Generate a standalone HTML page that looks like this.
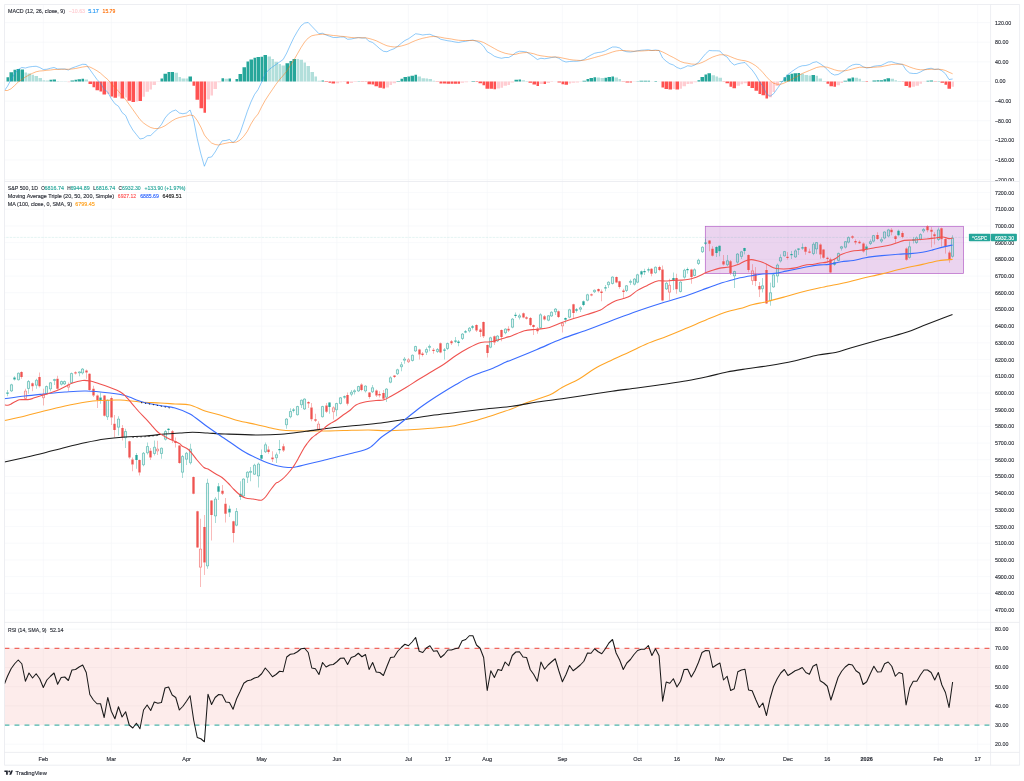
<!DOCTYPE html>
<html lang="en"><head><meta charset="utf-8"><title>S&amp;P 500 chart</title>
<style>html,body{margin:0;padding:0;background:#fff}body{width:1024px;height:781px;overflow:hidden}svg{display:block}text{font-family:"Liberation Sans", sans-serif;}</style></head><body>
<svg width="1024" height="781" viewBox="0 0 1024 781">
<rect width="1024" height="781" fill="#fff"/>
<path d="M43.3 4.5V752.4M111.32 4.5V752.4M186.5 4.5V752.4M261.68 4.5V752.4M336.86 4.5V752.4M408.46 4.5V752.4M447.84 4.5V752.4M487.22 4.5V752.4M562.4 4.5V752.4M637.58 4.5V752.4M676.96 4.5V752.4M719.92 4.5V752.4M787.94 4.5V752.4M827.32 4.5V752.4M866.7 4.5V752.4M938.3 4.5V752.4M977.68 4.5V752.4M4.5 22.63H990.6M4.5 42.25H990.6M4.5 61.88H990.6M4.5 81.5H990.6M4.5 101.12H990.6M4.5 120.75H990.6M4.5 140.37H990.6M4.5 160H990.6M4.5 179.62H990.6M4.5 192.55H990.6M4.5 209.25H990.6M4.5 225.95H990.6M4.5 242.65H990.6M4.5 259.35H990.6M4.5 276.05H990.6M4.5 292.75H990.6M4.5 309.45H990.6M4.5 326.15H990.6M4.5 342.85H990.6M4.5 359.55H990.6M4.5 376.25H990.6M4.5 392.95H990.6M4.5 409.65H990.6M4.5 426.35H990.6M4.5 443.05H990.6M4.5 459.75H990.6M4.5 476.45H990.6M4.5 493.15H990.6M4.5 509.85H990.6M4.5 526.55H990.6M4.5 543.25H990.6M4.5 559.95H990.6M4.5 576.65H990.6M4.5 593.35H990.6M4.5 610.05H990.6M4.5 629.11H990.6M4.5 648.3H990.6M4.5 667.49H990.6M4.5 686.68H990.6M4.5 705.87H990.6M4.5 725.06H990.6M4.5 744.25H990.6" stroke="#f3f5f9" stroke-width="0.6" fill="none"/>
<rect x="4.5" y="648.3" width="986.1" height="76.76" fill="#fdeceb"/>
<path d="M4.5 667.49H990.6M4.5 686.68H990.6M4.5 705.87H990.6M43.3 648.3V725.06M111.32 648.3V725.06M186.5 648.3V725.06M261.68 648.3V725.06M336.86 648.3V725.06M408.46 648.3V725.06M447.84 648.3V725.06M487.22 648.3V725.06M562.4 648.3V725.06M637.58 648.3V725.06M676.96 648.3V725.06M719.92 648.3V725.06M787.94 648.3V725.06M827.32 648.3V725.06M866.7 648.3V725.06M938.3 648.3V725.06M977.68 648.3V725.06" stroke="#f3e2e3" stroke-width="0.6" fill="none"/>
<path d="M4.5 648.3H990.6" stroke="#f1675f" stroke-width="1.3" stroke-dasharray="4.9 5.1" fill="none"/>
<path d="M4.5 725.06H990.6" stroke="#4db6ac" stroke-width="1.3" stroke-dasharray="4.9 5.1" fill="none"/>
<path d="M6.5 77.25h2.5v4.25h-2.5zM9.5 72.25h3.5v9.25h-3.5zM13.5 69.75h2.5v11.75h-2.5zM16.5 69h3.5v12.5h-3.5zM20.5 69.5h3.5v12h-3.5zM49.5 79.75h2.5v1.75h-2.5zM52.5 79.5h3.5v2h-3.5zM70.5 80.5h3.5v1h-3.5zM74.5 79.75h2.5v1.75h-2.5zM77.5 79.25h3.5v2.25h-3.5zM81.5 78.75h2.5v2.75h-2.5zM160.5 78.5h2.5v3h-2.5zM163.5 73.75h3.5v7.75h-3.5zM167.5 72h2.5v9.5h-2.5zM170.5 72h3.5v9.5h-3.5zM188.5 76.5h3.5v5h-3.5zM221.5 78.25h2.5v3.25h-2.5zM228.5 78.5h2.5v3h-2.5zM235.5 79h2.5v2.5h-2.5zM238.5 74h3.5v7.5h-3.5zM242.5 67.25h3.5v14.25h-3.5zM246.5 61.5h2.5v20h-2.5zM249.5 59.5h3.5v22h-3.5zM253.5 57.75h2.5v23.75h-2.5zM256.5 57h3.5v24.5h-3.5zM260.5 56.75h2.5v24.75h-2.5zM263.5 55h3.5v26.5h-3.5zM285.5 63.25h3.5v18.25h-3.5zM289.5 61h2.5v20.5h-2.5zM292.5 59h3.5v22.5h-3.5zM321.5 80.5h2.5v1h-2.5zM357.5 81.25h2.5v0.25h-2.5zM396.5 81h3.5v0.5h-3.5zM400.5 78.75h2.5v2.75h-2.5zM403.5 77h3.5v4.5h-3.5zM407.5 76.5h2.5v5h-2.5zM410.5 75.75h3.5v5.75h-3.5zM414.5 74.75h2.5v6.75h-2.5zM471.5 81h3.5v0.5h-3.5zM514.5 79.75h3.5v1.75h-3.5zM518.5 79.5h2.5v2h-2.5zM582.5 80.75h3.5v0.75h-3.5zM586.5 79h2.5v2.5h-2.5zM589.5 78h3.5v3.5h-3.5zM593.5 77.25h2.5v4.25h-2.5zM604.5 77.75h2.5v3.75h-2.5zM607.5 77h3.5v4.5h-3.5zM611.5 76.5h2.5v5h-2.5zM636.5 81.25h2.5v0.25h-2.5zM639.5 80.75h3.5v0.75h-3.5zM643.5 80.75h3.5v0.75h-3.5zM647.5 80.75h2.5v0.75h-2.5zM654.5 81h2.5v0.5h-2.5zM697.5 80.25h2.5v1.25h-2.5zM700.5 77h3.5v4.5h-3.5zM704.5 74.5h2.5v7h-2.5zM707.5 73.25h3.5v8.25h-3.5zM779.5 81h3.5v0.5h-3.5zM783.5 77.25h2.5v4.25h-2.5zM786.5 74.75h3.5v6.75h-3.5zM790.5 73.75h2.5v7.75h-2.5zM793.5 73.25h3.5v8.25h-3.5zM797.5 73h2.5v8.5h-2.5zM811.5 75h3.5v6.5h-3.5zM843.5 80.75h3.5v0.75h-3.5zM847.5 78.5h3.5v3h-3.5zM851.5 77.5h2.5v4h-2.5zM872.5 80.5h3.5v1h-3.5zM876.5 80.25h2.5v1.25h-2.5zM879.5 80.25h3.5v1.25h-3.5zM883.5 79.25h2.5v2.25h-2.5zM886.5 78.25h3.5v3.25h-3.5zM926.5 80.75h2.5v0.75h-2.5zM929.5 80.5h3.5v1h-3.5zM937.5 81.25h2.5v0.25h-2.5z" fill="#26a69a"/>
<path d="M24.5 72.5h2.5v9h-2.5zM27.5 73.5h3.5v8h-3.5zM31.5 74.75h2.5v6.75h-2.5zM34.5 76h3.5v5.5h-3.5zM38.5 78h3.5v3.5h-3.5zM42.5 80.25h2.5v1.25h-2.5zM45.5 80.5h3.5v1h-3.5zM56.5 81h2.5v0.5h-2.5zM59.5 81.25h3.5v0.25h-3.5zM63.5 81.25h3.5v0.25h-3.5zM84.5 79.5h3.5v2h-3.5zM174.5 72.75h3.5v8.75h-3.5zM178.5 77h2.5v4.5h-2.5zM181.5 78.5h3.5v3h-3.5zM185.5 78.5h2.5v3h-2.5zM224.5 78.75h3.5v2.75h-3.5zM267.5 56.5h3.5v25h-3.5zM271.5 59h2.5v22.5h-2.5zM274.5 61.75h3.5v19.75h-3.5zM278.5 64h2.5v17.5h-2.5zM281.5 65.5h3.5v16h-3.5zM296.5 59h2.5v22.5h-2.5zM299.5 59.75h3.5v21.75h-3.5zM303.5 62.5h2.5v19h-2.5zM306.5 66h3.5v15.5h-3.5zM310.5 72h3.5v9.5h-3.5zM314.5 76.5h2.5v5h-2.5zM317.5 80.75h3.5v0.75h-3.5zM417.5 76.5h3.5v5h-3.5zM421.5 78.25h3.5v3.25h-3.5zM425.5 78.5h2.5v3h-2.5zM428.5 79h3.5v2.5h-3.5zM432.5 80.75h2.5v0.75h-2.5zM521.5 80.25h3.5v1.25h-3.5zM525.5 81h2.5v0.5h-2.5zM596.5 77.5h3.5v4h-3.5zM600.5 78h3.5v3.5h-3.5zM614.5 77.5h3.5v4h-3.5zM618.5 79h2.5v2.5h-2.5zM711.5 75.25h3.5v6.25h-3.5zM715.5 76.5h2.5v5h-2.5zM718.5 77.75h3.5v3.75h-3.5zM800.5 73.75h3.5v7.75h-3.5zM804.5 75h3.5v6.5h-3.5zM808.5 75.5h2.5v6h-2.5zM815.5 75.75h2.5v5.75h-2.5zM818.5 78.5h3.5v3h-3.5zM822.5 81h3.5v0.5h-3.5zM854.5 77.75h3.5v3.75h-3.5zM858.5 78.75h2.5v2.75h-2.5zM861.5 81h3.5v0.5h-3.5zM890.5 78.75h3.5v2.75h-3.5zM894.5 80.25h2.5v1.25h-2.5zM897.5 81h3.5v0.5h-3.5z" fill="#b2dfdb"/>
<path d="M88.5 81.5h3.5v2.5h-3.5zM92.5 81.5h2.5v5.75h-2.5zM95.5 81.5h3.5v8.75h-3.5zM99.5 81.5h2.5v10h-2.5zM102.5 81.5h3.5v13h-3.5zM110.5 81.5h2.5v15h-2.5zM113.5 81.5h3.5v16.25h-3.5zM120.5 81.5h3.5v17h-3.5zM127.5 81.5h3.5v19.25h-3.5zM131.5 81.5h3.5v20.5h-3.5zM138.5 81.5h3.5v19.5h-3.5zM192.5 81.5h2.5v4.25h-2.5zM195.5 81.5h3.5v18.25h-3.5zM199.5 81.5h3.5v26.75h-3.5zM203.5 81.5h2.5v31.25h-2.5zM324.5 81.5h3.5v0.5h-3.5zM328.5 81.5h2.5v1.25h-2.5zM331.5 81.5h3.5v2h-3.5zM346.5 81.5h2.5v2.25h-2.5zM360.5 81.5h3.5v0.25h-3.5zM364.5 81.5h2.5v0.25h-2.5zM367.5 81.5h3.5v2.75h-3.5zM371.5 81.5h2.5v3h-2.5zM374.5 81.5h3.5v4.75h-3.5zM378.5 81.5h3.5v6.25h-3.5zM382.5 81.5h2.5v7h-2.5zM435.5 81.5h3.5v0.25h-3.5zM439.5 81.5h2.5v2h-2.5zM442.5 81.5h3.5v2h-3.5zM446.5 81.5h3.5v2.25h-3.5zM450.5 81.5h2.5v2.25h-2.5zM453.5 81.5h3.5v2.25h-3.5zM457.5 81.5h2.5v2.25h-2.5zM475.5 81.5h2.5v0.5h-2.5zM478.5 81.5h3.5v1.75h-3.5zM482.5 81.5h2.5v3.75h-2.5zM485.5 81.5h3.5v7.25h-3.5zM489.5 81.5h3.5v7.25h-3.5zM493.5 81.5h2.5v7.75h-2.5zM528.5 81.5h3.5v1.25h-3.5zM532.5 81.5h3.5v3h-3.5zM536.5 81.5h2.5v4.5h-2.5zM543.5 81.5h2.5v2.5h-2.5zM557.5 81.5h3.5v1h-3.5zM561.5 81.5h2.5v2.75h-2.5zM564.5 81.5h3.5v3.25h-3.5zM621.5 81.5h3.5v0.25h-3.5zM625.5 81.5h3.5v1h-3.5zM629.5 81.5h2.5v1h-2.5zM661.5 81.5h2.5v6h-2.5zM664.5 81.5h3.5v7.5h-3.5zM668.5 81.5h3.5v8h-3.5zM675.5 81.5h3.5v8h-3.5zM722.5 81.5h2.5v0.25h-2.5zM725.5 81.5h3.5v1.75h-3.5zM729.5 81.5h2.5v5.25h-2.5zM732.5 81.5h3.5v6.75h-3.5zM747.5 81.5h2.5v4.5h-2.5zM750.5 81.5h3.5v6.5h-3.5zM754.5 81.5h3.5v9.25h-3.5zM758.5 81.5h2.5v12.5h-2.5zM761.5 81.5h3.5v13.75h-3.5zM765.5 81.5h2.5v17h-2.5zM826.5 81.5h2.5v2.25h-2.5zM829.5 81.5h3.5v4.75h-3.5zM833.5 81.5h2.5v5.25h-2.5zM865.5 81.5h2.5v0.5h-2.5zM901.5 81.5h2.5v0.25h-2.5zM904.5 81.5h3.5v4.5h-3.5zM908.5 81.5h2.5v6h-2.5zM933.5 81.5h3.5v0.25h-3.5zM940.5 81.5h3.5v1.25h-3.5zM944.5 81.5h2.5v3.25h-2.5zM947.5 81.5h3.5v7.25h-3.5z" fill="#ff5252"/>
<path d="M67.5 81.5h2.5v0.75h-2.5zM106.5 81.5h3.5v12.5h-3.5zM117.5 81.5h2.5v15h-2.5zM124.5 81.5h2.5v16h-2.5zM135.5 81.5h2.5v20h-2.5zM142.5 81.5h2.5v15.25h-2.5zM145.5 81.5h3.5v10.25h-3.5zM149.5 81.5h2.5v8h-2.5zM152.5 81.5h3.5v3.5h-3.5zM156.5 81.5h3.5v0.25h-3.5zM206.5 81.5h3.5v18h-3.5zM210.5 81.5h2.5v14h-2.5zM213.5 81.5h3.5v7.5h-3.5zM217.5 81.5h3.5v0.75h-3.5zM335.5 81.5h3.5v1.75h-3.5zM339.5 81.5h2.5v0.75h-2.5zM342.5 81.5h3.5v0.5h-3.5zM349.5 81.5h3.5v1.5h-3.5zM353.5 81.5h3.5v0.5h-3.5zM385.5 81.5h3.5v6h-3.5zM389.5 81.5h2.5v3.5h-2.5zM392.5 81.5h3.5v1.75h-3.5zM460.5 81.5h3.5v1.25h-3.5zM464.5 81.5h3.5v0.75h-3.5zM496.5 81.5h3.5v7h-3.5zM500.5 81.5h2.5v6.25h-2.5zM503.5 81.5h3.5v4.25h-3.5zM507.5 81.5h2.5v3.5h-2.5zM510.5 81.5h3.5v1h-3.5zM539.5 81.5h3.5v2.5h-3.5zM546.5 81.5h3.5v1.5h-3.5zM550.5 81.5h2.5v0.5h-2.5zM568.5 81.5h2.5v2h-2.5zM571.5 81.5h3.5v1.25h-3.5zM575.5 81.5h3.5v1h-3.5zM579.5 81.5h2.5v0.25h-2.5zM632.5 81.5h3.5v0.25h-3.5zM672.5 81.5h2.5v7.5h-2.5zM679.5 81.5h2.5v7.25h-2.5zM682.5 81.5h3.5v4.75h-3.5zM686.5 81.5h2.5v2.5h-2.5zM689.5 81.5h3.5v2.25h-3.5zM693.5 81.5h3.5v0.75h-3.5zM736.5 81.5h3.5v4.25h-3.5zM740.5 81.5h2.5v2.75h-2.5zM743.5 81.5h3.5v1.75h-3.5zM768.5 81.5h3.5v15.75h-3.5zM772.5 81.5h2.5v10.5h-2.5zM775.5 81.5h3.5v4.5h-3.5zM836.5 81.5h3.5v3.75h-3.5zM840.5 81.5h2.5v1.5h-2.5zM911.5 81.5h3.5v5.25h-3.5zM915.5 81.5h3.5v4.25h-3.5zM919.5 81.5h2.5v2.25h-2.5zM922.5 81.5h3.5v0.25h-3.5zM951.5 81.5h2.5v5.25h-2.5z" fill="#ffcdd2"/>
<path d="M4.5 90.5L7.5 86.25L11.08 79.5L14.66 73.75L18.24 69.5L21.82 67.5L25.4 68L28.98 67L32.56 66.5L36.14 66.25L39.72 67.5L43.3 69.5L46.88 69.25L50.46 68.25L54.04 67.5L57.62 69L61.2 69L64.78 69L68.36 70L71.94 68L75.52 66.75L79.1 65.5L82.68 64.25L86.26 64.5L89.84 69.5L93.42 74.5L97 79.5L100.58 83.25L104.16 89.5L107.74 92L111.32 98.75L114.9 103.75L118.48 106.25L122.06 112.5L125.64 115.5L129.22 123.75L132.8 130L136.38 134.5L139.96 139L143.54 138.25L147.12 135.75L150.7 135.5L154.28 132L157.86 128.75L161.44 124.5L165.02 118L168.6 113.75L172.18 111.25L175.76 110L179.34 113L182.92 113.75L186.5 113L190.08 110L193.66 120L197.24 138.75L200.82 153.75L204.4 166.25L207.98 157.5L211.56 157L215.14 152L218.72 145.75L222.3 140.75L225.88 140.5L229.46 139.5L233.04 142.5L236.62 139.5L240.2 132.5L243.78 122L247.36 111.25L250.94 102L254.52 94.5L258.1 89.5L261.68 82L265.26 73.75L268.84 69.75L272.42 67L276 64.5L279.58 62L283.16 59.5L286.74 53L290.32 45L293.9 37.5L297.48 31.25L301.06 25.75L304.64 23L308.22 22.5L311.8 26.25L315.38 30L318.96 33.75L322.54 33.25L326.12 35L329.7 36.25L333.28 37.5L336.86 37.5L340.44 37L344.02 37L347.6 39.25L351.18 39L354.76 38.25L358.34 37.5L361.92 38L365.5 38L369.08 41.25L372.66 42.5L376.24 45.5L379.82 48.75L383.4 51.25L386.98 51.75L390.56 50L394.14 48.75L397.72 46.25L401.3 43.25L404.88 40.5L408.46 38.75L412.04 36.25L415.62 33.75L419.2 34.25L422.78 35L426.36 34.5L429.94 34.25L433.52 35.75L437.1 37L440.68 39.25L444.26 40L447.84 40.75L451.42 41.25L455 42L458.58 42.5L462.16 41.75L465.74 41.25L469.32 40.5L472.9 40L476.48 41.25L480.06 43L483.64 46.25L487.22 51.75L490.8 53.75L494.38 56.25L497.96 57.5L501.54 58.25L505.12 57.5L508.7 57.5L512.28 55.5L515.86 52.5L519.44 51.25L523.02 51.5L526.6 52L530.18 54.25L533.76 56.75L537.34 59.5L540.92 58.25L544.5 58.75L548.08 58.25L551.66 57.5L555.24 57L558.82 58.25L562.4 60.75L565.98 62L569.56 61.5L573.14 61.25L576.72 61.25L580.3 60.75L583.88 59.5L587.46 57L591.04 55L594.62 53.25L598.2 52.5L601.78 52L605.36 50.75L608.94 48.75L612.52 47L616.1 47L619.68 48L623.26 50.75L626.84 51.75L630.42 52L634 51.5L637.58 50.75L641.16 50.25L644.74 50L648.32 49.75L651.9 50.5L655.48 50L659.06 50.5L662.64 58L666.22 61.25L669.8 63.75L673.38 65L676.96 67.5L680.54 68.75L684.12 67.5L687.7 65.75L691.28 66.25L694.86 65L698.44 62.5L702.02 58L705.6 53.75L709.18 50.5L712.76 50.75L716.34 50.75L719.92 51L723.5 55L727.08 57L730.66 62L734.24 65L737.82 63.75L741.4 63L744.98 62.5L748.56 66.25L752.14 70L755.72 75L759.3 81.25L762.88 86.25L766.46 93.75L770.04 96.25L773.62 93.75L777.2 88.75L780.78 83.75L784.36 78.75L787.94 74.5L791.52 71.75L795.1 69.25L798.68 67L802.26 65.75L805.84 65.5L809.42 64.5L813 62.5L816.58 61.75L820.16 63.75L823.74 66.25L827.32 69.5L830.9 73.25L834.48 75L838.06 74.5L841.64 72.5L845.22 70L848.8 67L852.38 65L855.96 64.25L859.54 64.5L863.12 66.75L866.7 68L870.28 67.5L873.86 66.25L877.44 65.75L881.02 65.5L884.6 63.75L888.18 62L891.76 61.75L895.34 63L898.92 63.75L902.5 64.5L906.08 70L909.66 73L913.24 73.5L916.82 73.5L920.4 72L923.98 70L927.56 68.75L931.14 68.25L934.72 69.5L938.3 69L941.88 70.75L945.46 73.75L949.04 79.5L952.62 79" stroke="#2196f3" stroke-width="0.6" fill="none" stroke-linejoin="round" opacity="0.85"/>
<path d="M4.5 90.5L7.5 90.5L11.08 88.75L14.66 85.5L18.24 82L21.82 79.5L25.4 77L28.98 75L32.56 73.25L36.14 71.75L39.72 71L43.3 70.75L46.88 70.25L50.46 70L54.04 69.5L57.62 69.5L61.2 69.25L64.78 69.25L68.36 69.25L71.94 69L75.52 68.5L79.1 67.75L82.68 67L86.26 66.5L89.84 67L93.42 68.75L97 70.75L100.58 73.25L104.16 76.5L107.74 79.5L111.32 83.75L114.9 87.5L118.48 91.25L122.06 95.5L125.64 99.5L129.22 104.5L132.8 109.5L136.38 114.5L139.96 119.5L143.54 123L147.12 125.5L150.7 127.5L154.28 128.5L157.86 128.5L161.44 127.5L165.02 125.75L168.6 123.25L172.18 120.75L175.76 118.75L179.34 117.5L182.92 116.75L186.5 116L190.08 115L193.66 115.75L197.24 120.5L200.82 127L204.4 135L207.98 139.5L211.56 143L215.14 144.5L218.72 145L222.3 144L225.88 143.25L229.46 142.5L233.04 142.5L236.62 142L240.2 140L243.78 136.25L247.36 131.25L250.94 124L254.52 118.25L258.1 114L261.68 106.75L265.26 100.25L268.84 94.75L272.42 89.5L276 84.25L279.58 79.5L283.16 75.5L286.74 71.25L290.32 65.5L293.9 60L297.48 53.75L301.06 47.5L304.64 42L308.22 38L311.8 35.75L315.38 35L318.96 34.5L322.54 34.25L326.12 34.5L329.7 35L333.28 35.5L336.86 35.75L340.44 36.25L344.02 36.5L347.6 37L351.18 37.5L354.76 37.75L358.34 37.75L361.92 37.75L365.5 37.75L369.08 38.5L372.66 39.5L376.24 40.75L379.82 42.5L383.4 44.25L386.98 45.75L390.56 46.5L394.14 47L397.72 46.75L401.3 46L404.88 45L408.46 43.75L412.04 42L415.62 40.5L419.2 39.25L422.78 38.25L426.36 37.5L429.94 36.75L433.52 36.5L437.1 36.75L440.68 37.25L444.26 38L447.84 38.5L451.42 39L455 39.75L458.58 40.25L462.16 40.5L465.74 40.5L469.32 40.5L472.9 40.5L476.48 40.75L480.06 41.25L483.64 42.5L487.22 44.5L490.8 46.5L494.38 48.5L497.96 50.5L501.54 52L505.12 53.25L508.7 54L512.28 54.5L515.86 54.25L519.44 53.25L523.02 52.75L526.6 52.5L530.18 53L533.76 53.75L537.34 55L540.92 55.75L544.5 56.25L548.08 56.75L551.66 57L555.24 57L558.82 57.25L562.4 58L565.98 58.75L569.56 59.5L573.14 60L576.72 60.25L580.3 60.5L583.88 60.25L587.46 59.5L591.04 58.5L594.62 57.5L598.2 56.5L601.78 55.5L605.36 54.5L608.94 53.25L612.52 52L616.1 51L619.68 50.5L623.26 50.5L626.84 50.75L630.42 51L634 51.25L637.58 51L641.16 51L644.74 50.75L648.32 50.5L651.9 50.5L655.48 50.5L659.06 50.5L662.64 52L666.22 53.75L669.8 55.75L673.38 57.5L676.96 59.5L680.54 61.5L684.12 62.75L687.7 63.25L691.28 64L694.86 64.25L698.44 63.75L702.02 62.5L705.6 60.75L709.18 58.75L712.76 57L716.34 55.75L719.92 54.75L723.5 54.75L727.08 55.25L730.66 56.75L734.24 58.25L737.82 59.5L741.4 60.25L744.98 60.75L748.56 61.75L752.14 63.5L755.72 65.75L759.3 68.75L762.88 72.5L766.46 76.75L770.04 80.5L773.62 83.25L777.2 84.25L780.78 84.25L784.36 83L787.94 81.25L791.52 79.5L795.1 77.5L798.68 75.5L802.26 73.5L805.84 72L809.42 70.5L813 69L816.58 67.5L820.16 66.75L823.74 66.75L827.32 67.25L830.9 68.5L834.48 69.75L838.06 70.75L841.64 71L845.22 70.75L848.8 70L852.38 69L855.96 68L859.54 67.25L863.12 67.25L866.7 67.5L870.28 67.5L873.86 67.25L877.44 67L881.02 66.75L884.6 66L888.18 65.25L891.76 64.5L895.34 64.25L898.92 64.25L902.5 64.25L906.08 65.5L909.66 67L913.24 68.25L916.82 69.25L920.4 69.75L923.98 69.75L927.56 69.5L931.14 69.25L934.72 69.25L938.3 69.25L941.88 69.5L945.46 70.5L949.04 72.25L952.62 73.75" stroke="#ff6d00" stroke-width="0.6" fill="none" stroke-linejoin="round" opacity="0.8"/>
<rect x="705.3" y="226.3" width="258.2" height="47.1" fill="rgba(156,39,176,0.2)" stroke="#b45fc6" stroke-width="0.7"/>
<path d="M4.5 237.4H990.6" stroke="#26a69a" stroke-width="0.5" stroke-dasharray="0.5 0.9" fill="none" opacity="0.5"/>
<path d="M7.5 390V392.48M7.5 393.77V396.25M11.5 383.75V384.5M11.5 391.25V392M14.5 376.25V377.5M14.5 379.5V380.5M18.5 372.5V373M18.5 380V380.5M28.5 380V381.25M28.5 388.75V393.75M36.5 378.75V380M36.5 385.5V388.75M46.5 385.5V386.25M46.5 393.75V394.5M50.5 382V382.5M50.5 389.25V391.25M54.5 378.75V379.25M54.5 380.75V385M61.5 380.5V381.25M61.5 384.5V385.5M64.5 380.5V381.25M64.5 384.25V385M71.5 372.5V373.25M71.5 383V383.75M79.5 371.25V371.62M79.5 373.12V376.25M82.5 368V368.75M82.5 373.25V374.5M100.5 392.5V397.5M100.5 400.5V403.75M107.5 399.5V400M107.5 417V420M118.5 416.25V418.75M118.5 427.5V435.5M125.5 428.75V431.25M125.5 438V448M136.5 453V455M136.5 460V468.75M143.5 452V453M143.5 465V466.25M147.5 442.5V446.25M147.5 453V454.5M154.5 440.5V447M154.5 453.75V455.5M161.5 447.5V448M161.5 453.75V458.75M165.5 430V431.25M165.5 439.5V440.5M168.5 428V428.73M168.5 430.02V433M182.5 455V456.25M182.5 472.5V478M186.5 452V453M186.5 459.5V465M190.5 443.75V448.75M190.5 463V464.5M207.5 478.75V483M207.5 566.25V568.75M215.5 497V498.75M215.5 516.25V523M218.5 483V486.25M218.5 491.75V500M229.5 505.5V508.75M229.5 512.5V517M236.5 508V511.25M236.5 525.5V526.25M240.5 481.25V493.75M240.5 497V500M243.5 478.25V478.75M243.5 496.25V497M247.5 471.25V472M247.5 477.5V483M250.5 467V471.12M250.5 472.62V481.25M254.5 463.75V465M254.5 474.5V475M258.5 462.5V463.75M258.5 476.25V487.5M261.5 449.5V455M261.5 458.75V460M265.5 442.5V444.5M265.5 452V453M276.5 452.5V454.5M276.5 458V463M279.5 440V448.98M279.5 450.27V453.75M286.5 418V418.75M286.5 425V428.75M290.5 408.25V411.25M290.5 417V418.25M293.5 408V409.48M293.5 410.77V412.5M297.5 405.75V406.25M297.5 415V415.5M301.5 399.5V400M301.5 405V408M304.5 398.25V398.75M304.5 409.25V410M322.5 405.75V406.25M322.5 417V417.5M329.5 402V402.5M329.5 407V413.75M336.5 402.75V403.25M336.5 410V416.25M340.5 397V397.5M340.5 403.75V404.5M344.5 395.5V396.23M344.5 397.52V398.75M351.5 390V392M351.5 394.5V396.25M354.5 389.25V390.5M354.5 392V394.5M358.5 385.75V386.25M358.5 391.25V392M365.5 385.25V385.75M365.5 391.25V392.5M372.5 385V387.5M372.5 392V393M386.5 388V388.75M386.5 397.5V402M390.5 376.25V377.5M390.5 382.5V383.25M397.5 368.75V369.5M397.5 374V375M401.5 362V364.5M401.5 367V371.25M404.5 357V358.75M404.5 360.5V363.75M412.5 354.5V355M412.5 360.75V361.5M415.5 345.75V346.25M415.5 351.25V352M426.5 347.5V349.25M426.5 352.5V355M429.5 344.5V346.12M429.5 347.62V351.25M437.5 348V349.25M437.5 351.75V353M444.5 348V349.48M444.5 350.77V359.5M447.5 342.5V343.25M447.5 348.75V350M455.5 337V340.48M455.5 341.77V343M458.5 340V341.6M458.5 342.9V346.25M462.5 333V333.75M462.5 338.75V340M465.5 330V331.23M465.5 332.52V333.25M469.5 327V328M469.5 331.25V332.5M472.5 325V326.35M472.5 327.65V329.5M490.5 336.75V337.5M490.5 347.5V348.25M497.5 335V335.75M497.5 341.25V342M505.5 328.25V328.75M505.5 333V334.25M512.5 318V318.75M512.5 327.5V328.25M515.5 312.5V314.73M515.5 316.02V318M519.5 313.75V315.5M519.5 317.5V319.5M540.5 313.25V314.5M540.5 328V328.75M548.5 315V315.5M548.5 320.5V321.25M551.5 311.25V312M551.5 316.25V317M555.5 308V308.75M555.5 312V315M565.5 317.5V318M565.5 319.75V323.5M569.5 308.75V309.5M569.5 317.5V318.25M576.5 308V309.35M576.5 310.65V312.5M580.5 306.25V307.5M580.5 309.5V312M583.5 300.5V301.25M583.5 305V306.25M587.5 293.75V294.5M587.5 300.5V301.25M594.5 289.5V290M594.5 292V293M605.5 285V287.23M605.5 288.52V291.25M608.5 281.25V282M608.5 285V288M612.5 276.25V276.75M612.5 283.75V284.5M626.5 285V285.5M626.5 290.75V292M630.5 279.5V281.12M630.5 282.62V285M634.5 278V278.75M634.5 284.5V285.5M637.5 273.75V274.5M637.5 282.5V283.25M641.5 270.5V271.25M641.5 274.5V277.5M644.5 268.75V270.98M644.5 272.27V275M648.5 267.5V269.23M648.5 270.52V272.5M655.5 266.5V267M655.5 273V273.75M666.5 282V283M666.5 289.25V290M673.5 272.5V278M673.5 280.5V290M680.5 281.25V281.75M680.5 291.75V292.5M684.5 268.75V270M684.5 277.5V278.75M687.5 267.5V268.98M687.5 270.27V273.75M694.5 268.25V269.5M694.5 275.75V276.25M698.5 258.75V260M698.5 263.75V265M702.5 246.25V247M702.5 252V253M705.5 238.75V242.47M705.5 243.78V245M716.5 246.25V247M716.5 253V257M719.5 245.5V245.75M719.5 251.25V256.25M727.5 255V260.5M727.5 265V266.25M734.5 270.75V271.25M734.5 276.25V288M737.5 253V253.75M737.5 262.5V263.75M741.5 250.94V251.51M741.5 256.7V259.01M744.5 247.82V248.05M744.5 250.94V254.39M762.5 278.03V285.52M762.5 288.98V292.44M770.5 282.64V292.44M770.5 301.08V305.69M773.5 273.99V274.57M773.5 287.25V287.82M777.5 263.62V264.77M777.5 276.3V282.64M780.5 254.39V257.28M780.5 261.31V262.46M784.5 250.94V251.28M784.5 256.12V256.47M791.5 250.94V254.03M791.5 255.33V259.01M795.5 249.21V250.59M795.5 257.28V257.85M798.5 248.4V248.56M798.5 249.86V254.97M802.5 243.44V247.23M802.5 248.53V249.78M813.5 242.29V244.02M813.5 253.82V255.2M816.5 242.06V242.29M816.5 249.21V253.82M834.5 258.67V262.13M834.5 264.77V265.78M838.5 252.58V253.19M838.5 260.7V261.31M841.5 245.88V246.48M841.5 248.52V250.55M845.5 241V241.41M845.5 247.5V248.52M848.5 236.33V237.34M848.5 242.42V243.44M866.5 244.45V246.48M866.5 249.53V255.63M870.5 239.38V241.41M870.5 243.84V245.06M873.5 234.91V235.31M873.5 241.41V242.42M881.5 237.34V239.38M881.5 241.41V243.03M884.5 231.25V231.66M884.5 238.36V239.38M888.5 228.81V229.63M888.5 236.33V237.34M898.5 229.63V230.84M898.5 235.31V236.33M909.5 241.41V246.48M909.5 257.66V258.67M913.5 236.94V239.33M913.5 240.63V243.44M916.5 236.33V237.55M916.5 242.83V243.84M920.5 233.28V234.3M920.5 239.38V240.39M923.5 228.2V229.22M923.5 231.25V232.88M938.5 227.59V229.63M938.5 239.78V241M952.5 235.31V237.75M952.5 256.64V257.66" stroke="#26a69a" stroke-width="0.4" fill="none"/>
<path d="M21.5 371.25V372M21.5 377V378.75M25.5 388.75V390.75M25.5 398.75V400M32.5 382.5V383.25M32.5 386.25V391.25M39.5 372.5V377M39.5 386.25V387.5M43.5 388.75V393.75M43.5 398V405.5M57.5 375.75V378.75M57.5 388.75V389.5M68.5 382.5V384.5M68.5 387.5V391.25M75.5 371.25V372.23M75.5 373.52V374.5M86.5 369.5V370.5M86.5 372.5V378.75M89.5 373.25V373.75M89.5 390V390.75M93.5 385.75V388.75M93.5 395.5V397M97.5 394.5V395.5M97.5 400V408M104.5 395V395.5M104.5 415.75V416.5M111.5 396.25V398M111.5 417.5V425M114.5 415V423.75M114.5 430V437.5M122.5 425V428M122.5 437.5V440.5M129.5 440.75V441.25M129.5 457.5V458.75M132.5 457.5V459.5M132.5 464.5V471.25M139.5 459.5V460M139.5 472.5V475.5M150.5 448V450.75M150.5 457.5V460M157.5 440.75V448.75M157.5 451.25V455M172.5 430V431.25M172.5 440V443M175.5 437.5V441.25M175.5 443V447.5M179.5 445V445.5M179.5 463V463.75M193.5 476.5V477M193.5 493.75V494.25M197.5 510.75V511.25M197.5 547.5V548M200.5 518.75V548.75M200.5 567.5V587M204.5 515V527M204.5 562.5V575M211.5 500V500.5M211.5 515V540.5M222.5 485V490.75M222.5 493.75V495M225.5 498V503.75M225.5 513.75V522.5M233.5 520.75V521.25M233.5 533V542.5M268.5 446.25V449.5M268.5 452V453.75M272.5 451.25V457.5M272.5 459.25V462M283.5 443.75V446.25M283.5 450.5V452M308.5 401.25V402.1M308.5 403.4V408M311.5 403V407.5M311.5 419.25V421.25M315.5 413.75V419.35M315.5 420.65V422M318.5 421.25V423.75M318.5 429.5V430.5M326.5 403V405.5M326.5 411.75V413M333.5 406.25V407.5M333.5 412V419.5M347.5 392.5V395M347.5 403.75V405.5M361.5 383.25V384.5M361.5 390V391.25M369.5 392V392.5M369.5 397V398.75M376.5 389.5V390.5M376.5 395.5V397M379.5 391.25V394M379.5 395.5V397.5M383.5 390V393M383.5 398.75V400M394.5 375V375.5M394.5 377V378M408.5 358V359.5M408.5 362V363M419.5 348.75V349.5M419.5 354.5V359.5M422.5 352V353.5M422.5 355V356.5M433.5 348V349.73M433.5 351.02V353.75M440.5 342.5V343.25M440.5 352.5V353.25M451.5 340V341.25M451.5 343.25V345M476.5 324.25V325M476.5 330.5V332M480.5 328V329.5M480.5 332V337M483.5 321.5V322M483.5 336.25V338M487.5 344.5V345M487.5 353V357.5M494.5 335.5V336.25M494.5 342.5V345M501.5 329.5V330M501.5 337V341.25M508.5 326.25V328.75M508.5 330.5V332M523.5 312.5V313.25M523.5 317.5V318.25M526.5 316.25V317.35M526.5 318.65V319.5M530.5 317V318M530.5 325V326.25M533.5 324.5V325M533.5 327V335M537.5 327V328.75M537.5 331.25V333.75M544.5 315V316.25M544.5 319.5V320.5M558.5 310.5V311.25M558.5 317V318M562.5 322V323M562.5 326.25V332.5M573.5 303.75V304.25M573.5 313V318M591.5 293.5V294.23M591.5 295.52V296.25M598.5 288.5V289M598.5 291.25V292.5M601.5 289.5V291.6M601.5 292.9V301.25M616.5 276.5V277M616.5 282.5V283.25M619.5 280.75V281.25M619.5 287V288.75M623.5 288.75V290.5M623.5 292V298.75M651.5 268V268.75M651.5 273.75V276.25M659.5 265.75V267M659.5 270V271.25M662.5 265.5V269.5M662.5 300.5V301.25M669.5 278.75V285M669.5 292.5V300M676.5 273.75V278M676.5 289.25V293.75M691.5 268.75V269.5M691.5 277V283.75M709.5 240V240.5M709.5 243.75V251.25M712.5 246.25V248.75M712.5 255.75V256.5M723.5 255V261.25M723.5 264.5V265.5M730.5 260V261.25M730.5 273V275M748.5 254.39V254.97M748.5 269.96V272.26M752.5 264.19V270.53M752.5 280.91V284.94M755.5 267.07V273.99M755.5 280.91V286.1M759.5 282.06V286.1M759.5 289.55V297.05M766.5 264.19V269.96M766.5 303.39V303.96M787.5 252.09V256.8M787.5 258.1V259.58M805.5 246.33V246.9M805.5 251.74V254.74M809.5 248.63V251.55M809.5 252.85V253.24M820.5 243.44V244.45M820.5 254.61V258.67M823.5 249.13V249.53M823.5 257.66V258.67M827.5 256.64V257.82M827.5 259.12V262.74M830.5 257.66V259.28M830.5 272.49V273.09M852.5 235.31V236.33M852.5 237.75V238.97M855.5 239.38V241M855.5 242.42V244.45M859.5 240.39V241.87M859.5 243.17V243.84M863.5 242.42V243.44M863.5 251.56V252.58M877.5 232.27V234.91M877.5 238.97V239.78M891.5 228.2V229.63M891.5 232.27V235.31M895.5 235.31V236.33M895.5 238.97V243.44M902.5 231.25V232.88M902.5 236.94V238.36M906.5 247.5V248.52M906.5 259.69V260.7M927.5 225.16V226.17M927.5 230.23V232.27M931.5 227.19V229.63M931.5 231.66V247.5M934.5 232.27V234.3M934.5 236.33V244.45M941.5 227.59V228.2M941.5 239.38V246.48M945.5 238.36V238.97M945.5 245.88V253.59M949.5 250.55V252.58M949.5 259.69V262.74" stroke="#ef5350" stroke-width="0.4" fill="none"/>
<path d="M6.35 392.48h2.3v1.3h-2.3zM13.35 377.5h2.3v2h-2.3zM99.35 397.5h2.3v3h-2.3zM135.35 455h2.3v5h-2.3zM167.35 428.73h2.3v1.3h-2.3zM217.35 486.25h2.3v5.5h-2.3zM228.35 508.75h2.3v3.75h-2.3zM239.35 493.75h2.3v3.25h-2.3zM260.35 455h2.3v3.75h-2.3zM278.35 448.98h2.3v1.3h-2.3zM292.35 409.48h2.3v1.3h-2.3zM328.35 402.5h2.3v4.5h-2.3zM343.35 396.23h2.3v1.3h-2.3zM443.35 349.48h2.3v1.3h-2.3zM454.35 340.48h2.3v1.3h-2.3zM457.35 341.6h2.3v1.3h-2.3zM464.35 331.23h2.3v1.3h-2.3zM471.35 326.35h2.3v1.3h-2.3zM514.35 314.73h2.3v1.3h-2.3zM564.35 318h2.3v1.75h-2.3zM575.35 309.35h2.3v1.3h-2.3zM582.35 301.25h2.3v3.75h-2.3zM604.35 287.23h2.3v1.3h-2.3zM640.35 271.25h2.3v3.25h-2.3zM643.35 270.98h2.3v1.3h-2.3zM647.35 269.23h2.3v1.3h-2.3zM672.35 278h2.3v2.5h-2.3zM686.35 268.98h2.3v1.3h-2.3zM704.35 242.47h2.3v1.3h-2.3zM715.35 247h2.3v6h-2.3zM718.35 245.75h2.3v5.5h-2.3zM743.35 248.05h2.3v2.88h-2.3zM790.35 254.03h2.3v1.3h-2.3zM797.35 248.56h2.3v1.3h-2.3zM801.35 247.23h2.3v1.3h-2.3zM833.35 262.13h2.3v2.64h-2.3zM865.35 246.48h2.3v3.05h-2.3zM897.35 230.84h2.3v4.47h-2.3zM912.35 239.33h2.3v1.3h-2.3z" fill="#26a69a"/>
<path d="M20.35 372h2.3v5h-2.3zM31.35 383.25h2.3v3h-2.3zM38.35 377h2.3v9.25h-2.3zM56.35 378.75h2.3v10h-2.3zM74.35 372.23h2.3v1.3h-2.3zM85.35 370.5h2.3v2h-2.3zM88.35 373.75h2.3v16.25h-2.3zM92.35 388.75h2.3v6.75h-2.3zM96.35 395.5h2.3v4.5h-2.3zM103.35 395.5h2.3v20.25h-2.3zM110.35 398h2.3v19.5h-2.3zM113.35 423.75h2.3v6.25h-2.3zM121.35 428h2.3v9.5h-2.3zM128.35 441.25h2.3v16.25h-2.3zM131.35 459.5h2.3v5h-2.3zM138.35 460h2.3v12.5h-2.3zM149.35 450.75h2.3v6.75h-2.3zM171.35 431.25h2.3v8.75h-2.3zM174.35 441.25h2.3v1.75h-2.3zM178.35 445.5h2.3v17.5h-2.3zM192.35 477h2.3v16.75h-2.3zM196.35 511.25h2.3v36.25h-2.3zM203.35 527h2.3v35.5h-2.3zM210.35 500.5h2.3v14.5h-2.3zM221.35 490.75h2.3v3h-2.3zM224.35 503.75h2.3v10h-2.3zM232.35 521.25h2.3v11.75h-2.3zM267.35 449.5h2.3v2.5h-2.3zM271.35 457.5h2.3v1.75h-2.3zM282.35 446.25h2.3v4.25h-2.3zM307.35 402.1h2.3v1.3h-2.3zM310.35 407.5h2.3v11.75h-2.3zM314.35 419.35h2.3v1.3h-2.3zM325.35 405.5h2.3v6.25h-2.3zM346.35 395h2.3v8.75h-2.3zM360.35 384.5h2.3v5.5h-2.3zM368.35 392.5h2.3v4.5h-2.3zM375.35 390.5h2.3v5h-2.3zM378.35 394h2.3v1.5h-2.3zM382.35 393h2.3v5.75h-2.3zM393.35 375.5h2.3v1.5h-2.3zM418.35 349.5h2.3v5h-2.3zM421.35 353.5h2.3v1.5h-2.3zM432.35 349.73h2.3v1.3h-2.3zM439.35 343.25h2.3v9.25h-2.3zM450.35 341.25h2.3v2h-2.3zM475.35 325h2.3v5.5h-2.3zM479.35 329.5h2.3v2.5h-2.3zM482.35 322h2.3v14.25h-2.3zM486.35 345h2.3v8h-2.3zM493.35 336.25h2.3v6.25h-2.3zM500.35 330h2.3v7h-2.3zM507.35 328.75h2.3v1.75h-2.3zM522.35 313.25h2.3v4.25h-2.3zM525.35 317.35h2.3v1.3h-2.3zM529.35 318h2.3v7h-2.3zM532.35 325h2.3v2h-2.3zM536.35 328.75h2.3v2.5h-2.3zM543.35 316.25h2.3v3.25h-2.3zM557.35 311.25h2.3v5.75h-2.3zM572.35 304.25h2.3v8.75h-2.3zM590.35 294.23h2.3v1.3h-2.3zM597.35 289h2.3v2.25h-2.3zM600.35 291.6h2.3v1.3h-2.3zM615.35 277h2.3v5.5h-2.3zM618.35 281.25h2.3v5.75h-2.3zM622.35 290.5h2.3v1.5h-2.3zM650.35 268.75h2.3v5h-2.3zM658.35 267h2.3v3h-2.3zM661.35 269.5h2.3v31h-2.3zM675.35 278h2.3v11.25h-2.3zM690.35 269.5h2.3v7.5h-2.3zM708.35 240.5h2.3v3.25h-2.3zM711.35 248.75h2.3v7h-2.3zM722.35 261.25h2.3v3.25h-2.3zM729.35 261.25h2.3v11.75h-2.3zM747.35 254.97h2.3v14.99h-2.3zM754.35 273.99h2.3v6.92h-2.3zM758.35 286.1h2.3v3.46h-2.3zM765.35 269.96h2.3v33.43h-2.3zM786.35 256.8h2.3v1.3h-2.3zM804.35 246.9h2.3v4.84h-2.3zM808.35 251.55h2.3v1.3h-2.3zM819.35 244.45h2.3v10.16h-2.3zM822.35 249.53h2.3v8.13h-2.3zM826.35 257.82h2.3v1.3h-2.3zM829.35 259.28h2.3v13.2h-2.3zM851.35 236.33h2.3v1.42h-2.3zM854.35 241h2.3v1.42h-2.3zM858.35 241.87h2.3v1.3h-2.3zM862.35 243.44h2.3v8.13h-2.3zM876.35 234.91h2.3v4.06h-2.3zM890.35 229.63h2.3v2.64h-2.3zM894.35 236.33h2.3v2.64h-2.3zM901.35 232.88h2.3v4.06h-2.3zM905.35 248.52h2.3v11.17h-2.3zM926.35 226.17h2.3v4.06h-2.3zM930.35 229.63h2.3v2.03h-2.3zM933.35 234.3h2.3v2.03h-2.3zM940.35 228.2h2.3v11.17h-2.3zM944.35 238.97h2.3v6.91h-2.3zM948.35 252.58h2.3v7.11h-2.3z" fill="#ef5350"/>
<path d="M10.47 384.77h2.05v6.2h-2.05zM17.47 373.27h2.05v6.45h-2.05zM27.47 381.52h2.05v6.95h-2.05zM35.48 380.27h2.05v4.95h-2.05zM45.48 386.52h2.05v6.95h-2.05zM49.48 382.77h2.05v6.2h-2.05zM53.48 379.52h2.05v0.95h-2.05zM60.48 381.52h2.05v2.7h-2.05zM63.48 381.52h2.05v2.45h-2.05zM70.48 373.52h2.05v9.2h-2.05zM78.48 371.9h2.05v0.95h-2.05zM81.48 369.02h2.05v3.95h-2.05zM106.48 400.27h2.05v16.45h-2.05zM117.48 419.02h2.05v8.2h-2.05zM124.48 431.52h2.05v6.2h-2.05zM142.47 453.27h2.05v11.45h-2.05zM146.47 446.52h2.05v6.2h-2.05zM153.47 447.27h2.05v6.2h-2.05zM160.47 448.27h2.05v5.2h-2.05zM164.47 431.52h2.05v7.7h-2.05zM181.47 456.52h2.05v15.7h-2.05zM185.47 453.27h2.05v5.95h-2.05zM189.47 449.02h2.05v13.7h-2.05zM206.47 483.27h2.05v82.7h-2.05zM214.47 499.02h2.05v16.95h-2.05zM235.47 511.52h2.05v13.7h-2.05zM242.47 479.02h2.05v16.95h-2.05zM246.47 472.27h2.05v4.95h-2.05zM249.47 471.4h2.05v0.95h-2.05zM253.47 465.27h2.05v8.95h-2.05zM257.47 464.02h2.05v11.95h-2.05zM264.47 444.77h2.05v6.95h-2.05zM275.47 454.77h2.05v2.95h-2.05zM285.47 419.02h2.05v5.7h-2.05zM289.47 411.52h2.05v5.2h-2.05zM296.47 406.52h2.05v8.2h-2.05zM300.47 400.27h2.05v4.45h-2.05zM303.47 399.02h2.05v9.95h-2.05zM321.47 406.52h2.05v10.2h-2.05zM335.47 403.52h2.05v6.2h-2.05zM339.47 397.77h2.05v5.7h-2.05zM350.47 392.27h2.05v1.95h-2.05zM353.47 390.77h2.05v0.95h-2.05zM357.47 386.52h2.05v4.45h-2.05zM364.47 386.02h2.05v4.95h-2.05zM371.47 387.77h2.05v3.95h-2.05zM385.47 389.02h2.05v8.2h-2.05zM389.47 377.77h2.05v4.45h-2.05zM396.47 369.77h2.05v3.95h-2.05zM400.47 364.77h2.05v1.95h-2.05zM403.47 359.02h2.05v1.2h-2.05zM411.47 355.27h2.05v5.2h-2.05zM414.47 346.52h2.05v4.45h-2.05zM425.47 349.52h2.05v2.7h-2.05zM428.47 346.4h2.05v0.95h-2.05zM436.47 349.52h2.05v1.95h-2.05zM446.47 343.52h2.05v4.95h-2.05zM461.47 334.02h2.05v4.45h-2.05zM468.47 328.27h2.05v2.7h-2.05zM489.47 337.77h2.05v9.45h-2.05zM496.47 336.02h2.05v4.95h-2.05zM504.47 329.02h2.05v3.7h-2.05zM511.47 319.02h2.05v8.2h-2.05zM518.48 315.77h2.05v1.45h-2.05zM539.48 314.77h2.05v12.95h-2.05zM547.48 315.77h2.05v4.45h-2.05zM550.48 312.27h2.05v3.7h-2.05zM554.48 309.02h2.05v2.7h-2.05zM568.48 309.77h2.05v7.45h-2.05zM579.48 307.77h2.05v1.45h-2.05zM586.48 294.77h2.05v5.45h-2.05zM593.48 290.27h2.05v1.45h-2.05zM607.48 282.27h2.05v2.45h-2.05zM611.48 277.02h2.05v6.45h-2.05zM625.48 285.77h2.05v4.7h-2.05zM629.48 281.4h2.05v0.95h-2.05zM633.48 279.02h2.05v5.2h-2.05zM636.48 274.77h2.05v7.45h-2.05zM654.48 267.27h2.05v5.45h-2.05zM665.48 283.27h2.05v5.7h-2.05zM679.48 282.02h2.05v9.45h-2.05zM683.48 270.27h2.05v6.95h-2.05zM693.48 269.77h2.05v5.7h-2.05zM697.48 260.27h2.05v3.2h-2.05zM701.48 247.28h2.05v4.45h-2.05zM726.48 260.77h2.05v3.95h-2.05zM733.48 271.52h2.05v4.45h-2.05zM736.48 254.03h2.05v8.2h-2.05zM740.48 251.79h2.05v4.64h-2.05zM761.48 285.79h2.05v2.91h-2.05zM769.48 292.71h2.05v8.1h-2.05zM772.48 274.84h2.05v12.13h-2.05zM776.48 265.04h2.05v10.98h-2.05zM779.48 257.55h2.05v3.48h-2.05zM783.48 251.56h2.05v4.29h-2.05zM794.48 250.87h2.05v6.14h-2.05zM812.48 244.3h2.05v9.25h-2.05zM815.48 242.57h2.05v6.37h-2.05zM837.48 253.46h2.05v6.97h-2.05zM840.48 246.76h2.05v1.48h-2.05zM844.48 241.68h2.05v5.54h-2.05zM847.48 237.62h2.05v4.53h-2.05zM869.48 241.68h2.05v1.89h-2.05zM872.48 235.59h2.05v5.54h-2.05zM880.48 239.65h2.05v1.48h-2.05zM883.48 231.93h2.05v6.15h-2.05zM887.48 229.9h2.05v6.15h-2.05zM908.48 246.76h2.05v10.62h-2.05zM915.48 237.82h2.05v4.73h-2.05zM919.48 234.57h2.05v4.53h-2.05zM922.48 229.49h2.05v1.48h-2.05zM937.48 229.9h2.05v9.61h-2.05zM951.48 238.03h2.05v18.34h-2.05z" fill="rgba(38,166,154,0.13)" stroke="#26a69a" stroke-width="0.55"/>
<path d="M24.47 391.02h2.05v7.45h-2.05zM42.48 394.02h2.05v3.7h-2.05zM67.48 384.77h2.05v2.45h-2.05zM156.47 449.02h2.05v1.95h-2.05zM199.47 549.02h2.05v18.2h-2.05zM317.47 424.02h2.05v5.2h-2.05zM332.47 407.77h2.05v3.95h-2.05zM407.47 359.77h2.05v1.95h-2.05zM561.48 323.27h2.05v2.7h-2.05zM668.48 285.27h2.05v6.95h-2.05zM751.48 270.81h2.05v9.82h-2.05z" fill="rgba(239,83,80,0.10)" stroke="#ef5350" stroke-width="0.55"/>
<path d="M4.5 420.5C7.92 419.75 18.42 417.58 25 416C31.58 414.42 37.33 412.67 44 411C50.67 409.33 58 407.5 65 406C72 404.5 80.17 402.92 86 402C91.83 401.08 94.33 400.83 100 400.5C105.67 400.17 113.33 399.75 120 400C126.67 400.25 133.33 401.5 140 402C146.67 402.5 154.17 402.67 160 403C165.83 403.33 170 403.67 175 404C180 404.33 185 403.83 190 405C195 406.17 200 409.33 205 411C210 412.67 214.58 413.42 220 415C225.42 416.58 231.5 418.92 237.5 420.5C243.5 422.08 250.83 423.33 256 424.5C261.17 425.67 264.33 426.58 268.5 427.5C272.67 428.42 276.83 429.46 281 430C285.17 430.54 287.25 430.58 293.5 430.75C299.75 430.92 310.17 431.04 318.5 431C326.83 430.96 335.17 430.67 343.5 430.5C351.83 430.33 361.42 429.96 368.5 430C375.58 430.04 379.75 430.75 386 430.75C392.25 430.75 398.5 430.42 406 430C413.5 429.58 423.5 428.88 431 428.25C438.5 427.62 444.75 427.21 451 426.25C457.25 425.29 462.67 423.96 468.5 422.5C474.33 421.04 480.58 419.17 486 417.5C491.42 415.83 496.67 413.96 501 412.5C505.33 411.04 507.67 410.42 512 408.75C516.33 407.08 520.75 404.79 527 402.5C533.25 400.21 543.67 397.5 549.5 395C555.33 392.5 557 390.21 562 387.5C567 384.79 574.08 381.88 579.5 378.75C584.92 375.62 589.08 371.88 594.5 368.75C599.92 365.62 606.17 362.79 612 360C617.83 357.21 623.67 354.71 629.5 352C635.33 349.29 640.75 346.38 647 343.75C653.25 341.12 660.33 338.88 667 336.25C673.67 333.62 680.33 330.79 687 328C693.67 325.21 700.33 322.21 707 319.5C713.67 316.79 721.5 313.57 727 311.75C732.5 309.93 735.67 309.81 740 308.6C744.33 307.39 748.58 305.65 753 304.5C757.42 303.35 761 303.03 766.5 301.7C772 300.37 780.42 298.03 786 296.5C791.58 294.97 794.33 293.95 800 292.5C805.67 291.05 813.12 289.3 820 287.8C826.88 286.3 834.32 285.05 841.25 283.5C848.18 281.95 854.83 280.1 861.6 278.5C868.38 276.9 875.13 275.52 881.9 273.9C888.67 272.28 895.43 270.38 902.2 268.8C908.97 267.22 916.41 265.75 922.5 264.4C928.59 263.05 933.73 261.53 938.75 260.7C943.77 259.87 950.29 259.62 952.6 259.4" stroke="#ffa526" stroke-width="1.08" fill="none" stroke-linejoin="round"/>
<path d="M4.5 462C7.92 461.25 18.42 459 25 457.5C31.58 456 37.33 454.67 44 453C50.67 451.33 58 449.25 65 447.5C72 445.75 79.33 443.92 86 442.5C92.67 441.08 98.5 439.92 105 439C111.5 438.08 118.33 437.5 125 437C131.67 436.5 138.33 436.5 145 436C151.67 435.5 159.17 434.5 165 434C170.83 433.5 175.42 433.29 180 433C184.58 432.71 187.92 432.25 192.5 432.25C197.08 432.25 202.08 432.71 207.5 433C212.92 433.29 216.92 433.67 225 434C233.08 434.33 246.67 434.96 256 435C265.33 435.04 272.67 434.88 281 434.25C289.33 433.62 297.67 432.29 306 431.25C314.33 430.21 322.67 428.96 331 428C339.33 427.04 347.67 426.33 356 425.5C364.33 424.67 372.67 424.04 381 423C389.33 421.96 397.67 420.5 406 419.25C414.33 418 422.67 416.62 431 415.5C439.33 414.38 447.67 413.5 456 412.5C464.33 411.5 471.67 410.54 481 409.5C490.33 408.46 502.67 407.5 512 406.25C521.33 405 528.67 403.25 537 402C545.33 400.75 553.67 399.92 562 398.75C570.33 397.58 578.67 396.25 587 395C595.33 393.75 603.67 392.42 612 391.25C620.33 390.08 628.67 389.12 637 388C645.33 386.88 653.67 385.71 662 384.5C670.33 383.29 679.5 382.04 687 380.75C694.5 379.46 700.33 378.21 707 376.75C713.67 375.29 720.33 373.33 727 372C733.67 370.67 740.17 369.79 747 368.75C753.83 367.71 760.33 367 768 365.75C775.67 364.5 784.67 363.04 793 361.25C801.33 359.46 810.92 356.46 818 355C825.08 353.54 830.08 353.67 835.5 352.5C840.92 351.33 845.08 349.58 850.5 348C855.92 346.42 861.75 344.75 868 343C874.25 341.25 881.33 339.38 888 337.5C894.67 335.62 902.17 333.71 908 331.75C913.83 329.79 918 327.71 923 325.75C928 323.79 933.08 321.88 938 320C942.92 318.12 950.08 315.42 952.5 314.5" stroke="#1c1c1c" stroke-width="1.08" fill="none" stroke-linejoin="round"/>
<path d="M4.5 398.75C7.92 398.29 18.42 396.79 25 396C31.58 395.21 37.33 394.67 44 394C50.67 393.33 58 392.5 65 392C72 391.5 78.5 390.83 86 391C93.5 391.17 103.5 392.25 110 393C116.5 393.75 119.58 394 125 395.5C130.42 397 136.67 400.33 142.5 402C148.33 403.67 154.58 404.5 160 405.5C165.42 406.5 170 406.58 175 408C180 409.42 185 411.17 190 414C195 416.83 200 421.42 205 425C210 428.58 216.38 433 220 435.5C223.62 438 224.17 438.25 226.75 440C229.33 441.75 232.38 443.92 235.5 446C238.62 448.08 241.75 450.38 245.5 452.5C249.25 454.62 254.25 457 258 458.75C261.75 460.5 264.67 461.79 268 463C271.33 464.21 274.67 465.25 278 466C281.33 466.75 285.08 467.33 288 467.5C290.92 467.67 292.17 467.58 295.5 467C298.83 466.42 303.42 465.08 308 464C312.58 462.92 317.58 461.83 323 460.5C328.42 459.17 335.5 457.25 340.5 456C345.5 454.75 348.25 454.33 353 453C357.75 451.67 364.33 450.58 369 448C373.67 445.42 376.92 440.71 381 437.5C385.08 434.29 389.33 431.88 393.5 428.75C397.67 425.62 401.83 422.08 406 418.75C410.17 415.42 414.33 411.88 418.5 408.75C422.67 405.62 426.83 402.79 431 400C435.17 397.21 439.33 394.58 443.5 392C447.67 389.42 451.83 386.92 456 384.5C460.17 382.08 464.33 379.5 468.5 377.5C472.67 375.5 476.83 374.08 481 372.5C485.17 370.92 489.33 369.75 493.5 368C497.67 366.25 502.92 363.38 506 362C509.08 360.62 506.83 361.83 512 359.75C517.17 357.67 528.67 353 537 349.5C545.33 346 553.67 342 562 338.75C570.33 335.5 578.67 333.04 587 330C595.33 326.96 603.67 323.62 612 320.5C620.33 317.38 628.67 314.17 637 311.25C645.33 308.33 653.67 305.62 662 303C670.33 300.38 680.33 297.67 687 295.5C693.67 293.33 697 291.83 702 290C707 288.17 712 286.17 717 284.5C722 282.83 728.17 281.12 732 280C735.83 278.88 736.75 278.52 740 277.8C743.25 277.08 747.67 276.33 751.5 275.7C755.33 275.07 759.15 274.38 763 274C766.85 273.62 770.77 273.88 774.6 273.4C778.43 272.92 782.17 271.87 786 271.1C789.83 270.33 793.73 269.57 797.6 268.8C801.47 268.03 805.47 267.15 809.2 266.5C812.93 265.85 816.7 265.25 820 264.9C823.3 264.55 825.46 264.93 829 264.4C832.54 263.87 837.18 262.35 841.25 261.7C845.32 261.05 849.34 261.17 853.4 260.5C857.46 259.83 860.85 258.52 865.6 257.7C870.35 256.88 876.48 256.18 881.9 255.6C887.32 255.02 893.37 254.53 898.1 254.2C902.83 253.87 906.23 253.93 910.3 253.6C914.37 253.27 918.77 252.82 922.5 252.2C926.23 251.58 929.32 250.75 932.7 249.9C936.08 249.05 939.48 247.92 942.8 247.1C946.12 246.28 950.97 245.35 952.6 245" stroke="#3b6dff" stroke-width="1.15" fill="none" stroke-linejoin="round"/>
<path d="M4.6 404.9C5.12 404.97 6.67 405.42 7.7 405.3C8.72 405.18 9.47 404.83 10.75 404.2C12.03 403.57 13.99 402.23 15.4 401.5C16.81 400.77 17.93 400.12 19.2 399.8C20.47 399.48 21.6 399.63 23 399.6C24.4 399.57 26.05 399.77 27.6 399.6C29.15 399.43 30.75 399.03 32.3 398.6C33.85 398.17 35.37 397.52 36.9 397C38.43 396.48 39.97 395.97 41.5 395.5C43.03 395.03 44.32 394.73 46.1 394.2C47.88 393.67 49.88 393.12 52.2 392.3C54.52 391.48 56.62 390.85 60 389.3C63.38 387.75 68.75 384.47 72.5 383C76.25 381.53 79.58 380.83 82.5 380.5C85.42 380.17 87.08 380.42 90 381C92.92 381.58 96.67 382.92 100 384C103.33 385.08 106.67 386.22 110 387.5C113.33 388.78 117.48 390.35 120 391.7C122.52 393.05 122.97 393.45 125.1 395.6C127.23 397.75 130.45 401.87 132.8 404.6C135.15 407.33 137.07 409.65 139.2 412C141.33 414.35 143.47 416.4 145.6 418.7C147.73 421 150.07 423.67 152 425.8C153.93 427.93 155.7 430.07 157.2 431.5C158.7 432.93 159.3 433.33 161 434.4C162.7 435.47 165.05 436.72 167.4 437.9C169.75 439.08 173 440.5 175.1 441.5C177.2 442.5 178.85 443.15 180 443.9C181.15 444.65 180.5 444.98 182 446C183.5 447.02 186.5 447.67 189 450C191.5 452.33 194.5 457.08 197 460C199.5 462.92 202.17 466 204 467.5C205.83 469 206.08 467.96 208 469C209.92 470.04 213.17 472.33 215.5 473.75C217.83 475.17 219.92 475.96 222 477.5C224.08 479.04 226 481 228 483C230 485 232 487.5 234 489.5C236 491.5 238.08 493.58 240 495C241.92 496.42 243.33 497.33 245.5 498C247.67 498.67 250.92 498.67 253 499C255.08 499.33 256.5 499.83 258 500C259.5 500.17 260.75 500.5 262 500C263.25 499.5 264.08 498.67 265.5 497C266.92 495.33 268.78 492.28 270.5 490C272.22 487.72 274.55 484.58 275.8 483.3C277.05 482.02 276.95 482.95 278 482.3C279.05 481.65 280.52 480.78 282.1 479.4C283.68 478.02 285.7 476.02 287.5 474C289.3 471.98 291.12 469.87 292.9 467.3C294.68 464.73 296.35 461.82 298.2 458.6C300.05 455.38 302.45 450.6 304 448C305.55 445.4 306.22 444.67 307.5 443C308.78 441.33 310.18 439.47 311.7 438C313.22 436.53 315.01 435.38 316.6 434.2C318.19 433.02 319.57 432.27 321.25 430.9C322.93 429.53 325.01 427.33 326.7 426C328.39 424.67 329.7 423.93 331.4 422.9C333.1 421.87 334.95 421.12 336.9 419.8C338.85 418.48 341.02 416.5 343.1 415C345.18 413.5 347.25 412.47 349.4 410.8C351.55 409.13 353.23 406.51 356 405C358.77 403.49 362.67 402.5 366 401.75C369.33 401 373.08 400.79 376 400.5C378.92 400.21 381 400.71 383.5 400C386 399.29 387.25 398.33 391 396.25C394.75 394.17 401.42 390.29 406 387.5C410.58 384.71 414.33 382.08 418.5 379.5C422.67 376.92 426.83 374.5 431 372C435.17 369.5 439.33 367.25 443.5 364.5C447.67 361.75 451.83 358.25 456 355.5C460.17 352.75 464.33 350.17 468.5 348C472.67 345.83 477.67 343.5 481 342.5C484.33 341.5 486 342.33 488.5 342C491 341.67 493.08 341.25 496 340.5C498.92 339.75 503.33 338.29 506 337.5C508.67 336.71 508.92 336.88 512 335.75C515.08 334.62 520.33 331.83 524.5 330.75C528.67 329.67 532.83 329.79 537 329.25C541.17 328.71 545.33 328.62 549.5 327.5C553.67 326.38 557.83 324.04 562 322.5C566.17 320.96 570.33 319.58 574.5 318.25C578.67 316.92 582.75 315.82 587 314.5C591.25 313.18 596.67 311.78 600 310.3C603.33 308.82 604.47 307.15 607 305.6C609.53 304.05 612.47 302.17 615.2 301C617.93 299.83 620.85 299.48 623.4 298.6C625.95 297.72 628.15 297.07 630.5 295.7C632.85 294.33 634.77 292.07 637.5 290.4C640.23 288.73 644.17 287.07 646.9 285.7C649.63 284.33 651.95 283.02 653.9 282.2C655.85 281.38 656.65 281 658.6 280.8C660.55 280.6 663.25 281.07 665.6 281C667.95 280.93 669.97 280.55 672.7 280.4C675.43 280.25 679.28 280.28 682 280.1C684.72 279.92 687.04 279.63 689 279.3C690.96 278.97 691.98 278.7 693.75 278.1C695.52 277.5 697.64 276.58 699.6 275.7C701.56 274.82 703.35 273.72 705.5 272.8C707.65 271.88 710.08 270.98 712.5 270.2C714.92 269.42 717.17 268.63 720 268.1C722.83 267.57 726.25 267.7 729.5 267C732.75 266.3 736.78 264.95 739.5 263.9C742.22 262.85 743.8 261.42 745.8 260.7C747.8 259.98 749.58 259.6 751.5 259.6C753.42 259.6 755.38 260.22 757.3 260.7C759.22 261.18 761.27 261.82 763 262.5C764.73 263.18 765.97 263.93 767.7 264.8C769.43 265.67 771.48 267.03 773.4 267.7C775.32 268.37 776.7 268.62 779.2 268.8C781.7 268.98 785.72 268.95 788.4 268.8C791.08 268.65 792.6 268.48 795.3 267.9C798 267.32 801.52 265.92 804.6 265.3C807.68 264.68 811.23 264.58 813.8 264.2C816.37 263.82 817.8 263.35 820 263C822.2 262.65 824.47 262.82 827 262.1C829.53 261.38 832.83 259.95 835.2 258.7C837.58 257.45 838.55 255.85 841.25 254.6C843.95 253.35 847.67 251.98 851.4 251.2C855.12 250.42 859.53 250.52 863.6 249.9C867.67 249.28 871.73 248.23 875.8 247.5C879.87 246.77 884.28 246.35 888 245.5C891.72 244.65 895.4 243.25 898.1 242.4C900.8 241.55 901.48 240.8 904.2 240.4C906.92 240 910.67 240.23 914.4 240C918.13 239.77 922.88 239.38 926.6 239C930.32 238.62 934 238.08 936.7 237.75C939.4 237.42 940.77 236.86 942.8 237C944.83 237.14 947.27 238.42 948.9 238.6C950.53 238.78 951.98 238.18 952.6 238.1" stroke="#ef5350" stroke-width="1.1" fill="none" stroke-linejoin="round"/>
<path d="M141 402.6L156.5 405.2L172.5 408.5" stroke="#111" stroke-width="0.9" stroke-dasharray="1.2 2.8" fill="none"/>
<path d="M132.5 437.3L145 436.7L158.5 435.4" stroke="#111" stroke-width="0.9" stroke-dasharray="1.2 2.8" fill="none"/>
<path d="M4.5 683.75L7.5 676.25L11.08 668.75L14.66 663.75L18.24 660L21.82 663.75L25.4 681.25L28.98 673L32.56 678L36.14 673.75L39.72 678.75L43.3 687.5L46.88 680L50.46 676.25L54.04 673L57.62 684.25L61.2 677.5L64.78 677L68.36 680.5L71.94 670L75.52 669.5L79.1 667L82.68 665L86.26 672.5L89.84 694.5L93.42 700L97 703.75L100.58 703.75L104.16 717.5L107.74 697.5L111.32 711.25L114.9 718.75L118.48 706.75L122.06 717L125.64 711.75L129.22 725L132.8 728L136.38 723.25L139.96 728.75L143.54 710L147.12 705L150.7 710.5L154.28 702L157.86 703.25L161.44 702.5L165.02 688L168.6 687L172.18 695L175.76 697.5L179.34 710L182.92 706.25L186.5 701.25L190.08 695.75L193.66 720L197.24 737.5L200.82 738.75L204.4 741.75L207.98 694.25L211.56 704.5L215.14 697.5L218.72 694.5L222.3 695L225.88 702L229.46 702.5L233.04 709.25L236.62 698.75L240.2 691.25L243.78 683.25L247.36 680.75L250.94 680L254.52 678L258.1 677L261.68 673.75L265.26 668L268.84 672L272.42 676.75L276 674.5L279.58 671.25L283.16 671.75L286.74 657L290.32 654.25L293.9 653.75L297.48 651.75L301.06 648.75L304.64 648.25L308.22 652.5L311.8 668L315.38 668.75L318.96 674.5L322.54 662.5L326.12 667L329.7 665L333.28 664.5L336.86 661.75L340.44 658.25L344.02 658L347.6 664.5L351.18 657.5L354.76 656.25L358.34 653.25L361.92 656.75L365.5 654.5L369.08 669.5L372.66 662.5L376.24 672L379.82 672.5L383.4 675.5L386.98 666.25L390.56 657.5L394.14 657L397.72 651.25L401.3 647.5L404.88 644.25L408.46 645.75L412.04 642L415.62 637.5L419.2 651.25L422.78 652.5L426.36 648L429.94 645.75L433.52 651.25L437.1 650.75L440.68 657.5L444.26 654.5L447.84 650L451.42 650L455 648.75L458.58 648L462.16 640.75L465.74 639.5L469.32 635.75L472.9 635.75L476.48 645L480.06 648.25L483.64 657.5L487.22 690.5L490.8 670.75L494.38 677.5L497.96 669.5L501.54 670.5L505.12 662L508.7 665.75L512.28 655.5L515.86 652L519.44 651.75L523.02 657L526.6 657.5L530.18 669.5L533.76 674.5L537.34 681.25L540.92 662L544.5 669.25L548.08 665L551.66 661.75L555.24 658.75L558.82 670.75L562.4 681.75L565.98 674.5L569.56 665.5L573.14 670.75L576.72 668L580.3 665L583.88 661.25L587.46 653L591.04 653.25L594.62 648.75L598.2 651.75L601.78 653.75L605.36 648.75L608.94 643L612.52 639.5L616.1 653L619.68 660L623.26 669.5L626.84 663L630.42 659.5L634 654.5L637.58 650.5L641.16 649.25L644.74 649.25L648.32 645.5L651.9 655.5L655.48 648.75L659.06 655.75L662.64 701.25L666.22 682L669.8 683.25L673.38 678.75L676.96 687L680.54 681.25L684.12 669.5L687.7 669.25L691.28 677L694.86 670.75L698.44 662.5L702.02 652.5L705.6 650.5L709.18 650.75L712.76 667.5L716.34 665L719.92 663L723.5 680L727.08 676.25L730.66 690.5L734.24 688.75L737.82 671.75L741.4 670L744.98 669.25L748.56 690L752.14 690.75L755.72 699.5L759.3 707.5L762.88 703L766.46 715.5L770.04 698.75L773.62 686.25L777.2 678.75L780.78 673L784.36 669.5L787.94 675.5L791.52 673.25L795.1 670.75L798.68 669.5L802.26 667.5L805.84 672.5L809.42 674.25L813 666.25L816.58 664.25L820.16 680.75L823.74 683L827.32 686.25L830.9 700L834.48 688.75L838.06 677.5L841.64 671.25L845.22 667L848.8 664.25L852.38 665L855.96 670.75L859.54 673.25L863.12 684.5L866.7 681.75L870.28 673.75L873.86 666.25L877.44 672L881.02 671.75L884.6 663.75L888.18 662L891.76 666.25L895.34 676.25L898.92 672.5L902.5 673.75L906.08 705L909.66 688L913.24 681.25L916.82 681.25L920.4 675L923.98 670L927.56 670L931.14 672.5L934.72 680L938.3 672.5L941.88 685L945.46 692.5L949.04 707.5L952.62 682" stroke="#1a1a1a" stroke-width="1.05" fill="none" stroke-linejoin="round"/>
<rect x="990.6" y="4.5" width="29" height="760.7" fill="#fff"/>
<path d="M4.5 4.5H1019.6V765.2H4.5zM990.6 4.5V765.2M4.5 181.5H1019.6M4.5 622.4H1019.6M4.5 752.4H1019.6" stroke="#e8eaef" stroke-width="0.8" fill="none"/>
<clipPath id="c1"><rect x="990.6" y="4.5" width="40" height="176.6"/></clipPath><g clip-path="url(#c1)">
<text x="995" y="24.6" font-size="5.5" fill="#2a2d36" textLength="16.3" lengthAdjust="spacingAndGlyphs" stroke="#2a2d36" stroke-width="0.13">120.00</text>
<text x="995" y="44.22" font-size="5.5" fill="#2a2d36" textLength="13.4" lengthAdjust="spacingAndGlyphs" stroke="#2a2d36" stroke-width="0.13">80.00</text>
<text x="995" y="63.85" font-size="5.5" fill="#2a2d36" textLength="13.4" lengthAdjust="spacingAndGlyphs" stroke="#2a2d36" stroke-width="0.13">40.00</text>
<text x="995" y="83.47" font-size="5.5" fill="#2a2d36" textLength="10.6" lengthAdjust="spacingAndGlyphs" stroke="#2a2d36" stroke-width="0.13">0.00</text>
<text x="995" y="103.09" font-size="5.5" fill="#2a2d36" textLength="16.3" lengthAdjust="spacingAndGlyphs" stroke="#2a2d36" stroke-width="0.13">−40.00</text>
<text x="995" y="122.72" font-size="5.5" fill="#2a2d36" textLength="16.3" lengthAdjust="spacingAndGlyphs" stroke="#2a2d36" stroke-width="0.13">−80.00</text>
<text x="995" y="142.34" font-size="5.5" fill="#2a2d36" textLength="19.2" lengthAdjust="spacingAndGlyphs" stroke="#2a2d36" stroke-width="0.13">−120.00</text>
<text x="995" y="161.97" font-size="5.5" fill="#2a2d36" textLength="19.2" lengthAdjust="spacingAndGlyphs" stroke="#2a2d36" stroke-width="0.13">−160.00</text>
<text x="995" y="181.59" font-size="5.5" fill="#2a2d36" textLength="19.2" lengthAdjust="spacingAndGlyphs" stroke="#2a2d36" stroke-width="0.13">−200.00</text>
</g>
<text x="995" y="194.52" font-size="5.5" fill="#2a2d36" textLength="19.1" lengthAdjust="spacingAndGlyphs" stroke="#2a2d36" stroke-width="0.13">7200.00</text>
<text x="995" y="211.22" font-size="5.5" fill="#2a2d36" textLength="19.1" lengthAdjust="spacingAndGlyphs" stroke="#2a2d36" stroke-width="0.13">7100.00</text>
<text x="995" y="227.92" font-size="5.5" fill="#2a2d36" textLength="19.1" lengthAdjust="spacingAndGlyphs" stroke="#2a2d36" stroke-width="0.13">7000.00</text>
<text x="995" y="261.32" font-size="5.5" fill="#2a2d36" textLength="19.1" lengthAdjust="spacingAndGlyphs" stroke="#2a2d36" stroke-width="0.13">6800.00</text>
<text x="995" y="278.02" font-size="5.5" fill="#2a2d36" textLength="19.1" lengthAdjust="spacingAndGlyphs" stroke="#2a2d36" stroke-width="0.13">6700.00</text>
<text x="995" y="294.72" font-size="5.5" fill="#2a2d36" textLength="19.1" lengthAdjust="spacingAndGlyphs" stroke="#2a2d36" stroke-width="0.13">6600.00</text>
<text x="995" y="311.42" font-size="5.5" fill="#2a2d36" textLength="19.1" lengthAdjust="spacingAndGlyphs" stroke="#2a2d36" stroke-width="0.13">6500.00</text>
<text x="995" y="328.12" font-size="5.5" fill="#2a2d36" textLength="19.1" lengthAdjust="spacingAndGlyphs" stroke="#2a2d36" stroke-width="0.13">6400.00</text>
<text x="995" y="344.82" font-size="5.5" fill="#2a2d36" textLength="19.1" lengthAdjust="spacingAndGlyphs" stroke="#2a2d36" stroke-width="0.13">6300.00</text>
<text x="995" y="361.52" font-size="5.5" fill="#2a2d36" textLength="19.1" lengthAdjust="spacingAndGlyphs" stroke="#2a2d36" stroke-width="0.13">6200.00</text>
<text x="995" y="378.22" font-size="5.5" fill="#2a2d36" textLength="19.1" lengthAdjust="spacingAndGlyphs" stroke="#2a2d36" stroke-width="0.13">6100.00</text>
<text x="995" y="394.92" font-size="5.5" fill="#2a2d36" textLength="19.1" lengthAdjust="spacingAndGlyphs" stroke="#2a2d36" stroke-width="0.13">6000.00</text>
<text x="995" y="411.62" font-size="5.5" fill="#2a2d36" textLength="19.1" lengthAdjust="spacingAndGlyphs" stroke="#2a2d36" stroke-width="0.13">5900.00</text>
<text x="995" y="428.32" font-size="5.5" fill="#2a2d36" textLength="19.1" lengthAdjust="spacingAndGlyphs" stroke="#2a2d36" stroke-width="0.13">5800.00</text>
<text x="995" y="445.02" font-size="5.5" fill="#2a2d36" textLength="19.1" lengthAdjust="spacingAndGlyphs" stroke="#2a2d36" stroke-width="0.13">5700.00</text>
<text x="995" y="461.72" font-size="5.5" fill="#2a2d36" textLength="19.1" lengthAdjust="spacingAndGlyphs" stroke="#2a2d36" stroke-width="0.13">5600.00</text>
<text x="995" y="478.42" font-size="5.5" fill="#2a2d36" textLength="19.1" lengthAdjust="spacingAndGlyphs" stroke="#2a2d36" stroke-width="0.13">5500.00</text>
<text x="995" y="495.12" font-size="5.5" fill="#2a2d36" textLength="19.1" lengthAdjust="spacingAndGlyphs" stroke="#2a2d36" stroke-width="0.13">5400.00</text>
<text x="995" y="511.82" font-size="5.5" fill="#2a2d36" textLength="19.1" lengthAdjust="spacingAndGlyphs" stroke="#2a2d36" stroke-width="0.13">5300.00</text>
<text x="995" y="528.52" font-size="5.5" fill="#2a2d36" textLength="19.1" lengthAdjust="spacingAndGlyphs" stroke="#2a2d36" stroke-width="0.13">5200.00</text>
<text x="995" y="545.22" font-size="5.5" fill="#2a2d36" textLength="19.1" lengthAdjust="spacingAndGlyphs" stroke="#2a2d36" stroke-width="0.13">5100.00</text>
<text x="995" y="561.92" font-size="5.5" fill="#2a2d36" textLength="19.1" lengthAdjust="spacingAndGlyphs" stroke="#2a2d36" stroke-width="0.13">5000.00</text>
<text x="995" y="578.62" font-size="5.5" fill="#2a2d36" textLength="19.1" lengthAdjust="spacingAndGlyphs" stroke="#2a2d36" stroke-width="0.13">4900.00</text>
<text x="995" y="595.32" font-size="5.5" fill="#2a2d36" textLength="19.1" lengthAdjust="spacingAndGlyphs" stroke="#2a2d36" stroke-width="0.13">4800.00</text>
<text x="995" y="612.02" font-size="5.5" fill="#2a2d36" textLength="19.1" lengthAdjust="spacingAndGlyphs" stroke="#2a2d36" stroke-width="0.13">4700.00</text>
<text x="995" y="244.62" font-size="5.5" fill="#2a2d36" textLength="19.1" lengthAdjust="spacingAndGlyphs" stroke="#2a2d36" stroke-width="0.13">6900.00</text>
<text x="995" y="631.08" font-size="5.5" fill="#2a2d36" textLength="13.4" lengthAdjust="spacingAndGlyphs" stroke="#2a2d36" stroke-width="0.13">80.00</text>
<text x="995" y="650.27" font-size="5.5" fill="#2a2d36" textLength="13.4" lengthAdjust="spacingAndGlyphs" stroke="#2a2d36" stroke-width="0.13">70.00</text>
<text x="995" y="669.46" font-size="5.5" fill="#2a2d36" textLength="13.4" lengthAdjust="spacingAndGlyphs" stroke="#2a2d36" stroke-width="0.13">60.00</text>
<text x="995" y="688.65" font-size="5.5" fill="#2a2d36" textLength="13.4" lengthAdjust="spacingAndGlyphs" stroke="#2a2d36" stroke-width="0.13">50.00</text>
<text x="995" y="707.84" font-size="5.5" fill="#2a2d36" textLength="13.4" lengthAdjust="spacingAndGlyphs" stroke="#2a2d36" stroke-width="0.13">40.00</text>
<text x="995" y="727.03" font-size="5.5" fill="#2a2d36" textLength="13.4" lengthAdjust="spacingAndGlyphs" stroke="#2a2d36" stroke-width="0.13">30.00</text>
<text x="995" y="746.22" font-size="5.5" fill="#2a2d36" textLength="13.4" lengthAdjust="spacingAndGlyphs" stroke="#2a2d36" stroke-width="0.13">20.00</text>
<rect x="968.9" y="233.7" width="21.4" height="7.6" rx="0.8" fill="#26a69a"/>
<rect x="990.9" y="233.7" width="26" height="7.6" rx="0.8" fill="#26a69a"/>
<text x="972" y="239.95" font-size="5.5" fill="#fff" textLength="15.2" lengthAdjust="spacingAndGlyphs" stroke="#fff" stroke-width="0.13">^GSPC</text>
<text x="995" y="239.95" font-size="5.5" fill="#fff" textLength="19.1" lengthAdjust="spacingAndGlyphs" stroke="#fff" stroke-width="0.13">6932.30</text>
<text x="43.3" y="760.6" font-size="5.5" fill="#2a2d36" text-anchor="middle" stroke="#2a2d36" stroke-width="0.13">Feb</text>
<text x="111.32" y="760.6" font-size="5.5" fill="#2a2d36" text-anchor="middle" stroke="#2a2d36" stroke-width="0.13">Mar</text>
<text x="186.5" y="760.6" font-size="5.5" fill="#2a2d36" text-anchor="middle" stroke="#2a2d36" stroke-width="0.13">Apr</text>
<text x="261.68" y="760.6" font-size="5.5" fill="#2a2d36" text-anchor="middle" stroke="#2a2d36" stroke-width="0.13">May</text>
<text x="336.86" y="760.6" font-size="5.5" fill="#2a2d36" text-anchor="middle" stroke="#2a2d36" stroke-width="0.13">Jun</text>
<text x="408.46" y="760.6" font-size="5.5" fill="#2a2d36" text-anchor="middle" stroke="#2a2d36" stroke-width="0.13">Jul</text>
<text x="447.84" y="760.6" font-size="5.5" fill="#2a2d36" text-anchor="middle" stroke="#2a2d36" stroke-width="0.13">17</text>
<text x="487.22" y="760.6" font-size="5.5" fill="#2a2d36" text-anchor="middle" stroke="#2a2d36" stroke-width="0.13">Aug</text>
<text x="562.4" y="760.6" font-size="5.5" fill="#2a2d36" text-anchor="middle" stroke="#2a2d36" stroke-width="0.13">Sep</text>
<text x="637.58" y="760.6" font-size="5.5" fill="#2a2d36" text-anchor="middle" stroke="#2a2d36" stroke-width="0.13">Oct</text>
<text x="676.96" y="760.6" font-size="5.5" fill="#2a2d36" text-anchor="middle" stroke="#2a2d36" stroke-width="0.13">16</text>
<text x="719.92" y="760.6" font-size="5.5" fill="#2a2d36" text-anchor="middle" stroke="#2a2d36" stroke-width="0.13">Nov</text>
<text x="787.94" y="760.6" font-size="5.5" fill="#2a2d36" text-anchor="middle" stroke="#2a2d36" stroke-width="0.13">Dec</text>
<text x="827.32" y="760.6" font-size="5.5" fill="#2a2d36" text-anchor="middle" stroke="#2a2d36" stroke-width="0.13">16</text>
<text x="866.7" y="760.6" font-size="5.5" fill="#2a2d36" text-anchor="middle" font-weight="bold" stroke="#2a2d36" stroke-width="0.13">2026</text>
<text x="938.3" y="760.6" font-size="5.5" fill="#2a2d36" text-anchor="middle" stroke="#2a2d36" stroke-width="0.13">Feb</text>
<text x="977.68" y="760.6" font-size="5.5" fill="#2a2d36" text-anchor="middle" stroke="#2a2d36" stroke-width="0.13">17</text>
<text x="8" y="13.1" font-size="5.5" fill="#2a2d36" textLength="57" lengthAdjust="spacingAndGlyphs" stroke="#2a2d36" stroke-width="0.13">MACD (12, 26, close, 9)</text>
<text x="68.8" y="13.1" font-size="5.5" fill="#ffcdd2" textLength="16.2" lengthAdjust="spacingAndGlyphs" stroke="#ffcdd2" stroke-width="0.13">−10.63</text>
<text x="88.2" y="13.1" font-size="5.5" fill="#2196f3" textLength="10.6" lengthAdjust="spacingAndGlyphs" stroke="#2196f3" stroke-width="0.13">5.17</text>
<text x="102.6" y="13.1" font-size="5.5" fill="#ff6d00" textLength="12.6" lengthAdjust="spacingAndGlyphs" stroke="#ff6d00" stroke-width="0.13">15.79</text>
<text x="7.8" y="189.7" font-size="5.5" fill="#2a2d36" textLength="30.2" lengthAdjust="spacingAndGlyphs" stroke="#2a2d36" stroke-width="0.13">S&amp;P 500, 1D</text>
<text x="41.2" y="189.7" font-size="5.5" fill="#2a2d36" textLength="3.6" lengthAdjust="spacingAndGlyphs" stroke="#2a2d36" stroke-width="0.13">O</text>
<text x="44.6" y="189.7" font-size="5.5" fill="#26a69a" textLength="19.4" lengthAdjust="spacingAndGlyphs" stroke="#26a69a" stroke-width="0.13">6816.74</text>
<text x="67.2" y="189.7" font-size="5.5" fill="#2a2d36" textLength="3.4" lengthAdjust="spacingAndGlyphs" stroke="#2a2d36" stroke-width="0.13">H</text>
<text x="70.4" y="189.7" font-size="5.5" fill="#26a69a" textLength="19.4" lengthAdjust="spacingAndGlyphs" stroke="#26a69a" stroke-width="0.13">6944.89</text>
<text x="93.2" y="189.7" font-size="5.5" fill="#2a2d36" textLength="2.6" lengthAdjust="spacingAndGlyphs" stroke="#2a2d36" stroke-width="0.13">L</text>
<text x="95.8" y="189.7" font-size="5.5" fill="#26a69a" textLength="19.4" lengthAdjust="spacingAndGlyphs" stroke="#26a69a" stroke-width="0.13">6816.74</text>
<text x="118.6" y="189.7" font-size="5.5" fill="#2a2d36" textLength="3.4" lengthAdjust="spacingAndGlyphs" stroke="#2a2d36" stroke-width="0.13">C</text>
<text x="122" y="189.7" font-size="5.5" fill="#26a69a" textLength="18.7" lengthAdjust="spacingAndGlyphs" stroke="#26a69a" stroke-width="0.13">6932.30</text>
<text x="144.5" y="189.7" font-size="5.5" fill="#26a69a" textLength="41" lengthAdjust="spacingAndGlyphs" stroke="#26a69a" stroke-width="0.13">+133.90 (+1.97%)</text>
<text x="7.8" y="198" font-size="5.5" fill="#2a2d36" textLength="106.2" lengthAdjust="spacingAndGlyphs" stroke="#2a2d36" stroke-width="0.13">Moving Average Triple (20, 50, 200, Simple)</text>
<text x="117.8" y="198" font-size="5.5" fill="#ff5252" textLength="18.4" lengthAdjust="spacingAndGlyphs" stroke="#ff5252" stroke-width="0.13">6927.12</text>
<text x="140.2" y="198" font-size="5.5" fill="#2962ff" textLength="18.6" lengthAdjust="spacingAndGlyphs" stroke="#2962ff" stroke-width="0.13">6885.69</text>
<text x="162.6" y="198" font-size="5.5" fill="#1a1a1a" textLength="19" lengthAdjust="spacingAndGlyphs" stroke="#1a1a1a" stroke-width="0.13">6469.51</text>
<text x="7.8" y="205.5" font-size="5.5" fill="#2a2d36" textLength="64.2" lengthAdjust="spacingAndGlyphs" stroke="#2a2d36" stroke-width="0.13">MA (100, close, 0, SMA, 9)</text>
<text x="75.2" y="205.5" font-size="5.5" fill="#ffa01c" textLength="19.5" lengthAdjust="spacingAndGlyphs" stroke="#ffa01c" stroke-width="0.13">6799.45</text>
<text x="8" y="632" font-size="5.5" fill="#2a2d36" textLength="38.5" lengthAdjust="spacingAndGlyphs" stroke="#2a2d36" stroke-width="0.13">RSI (14, SMA, 9)</text>
<text x="50" y="632" font-size="5.5" fill="#2a2d36" textLength="13.4" lengthAdjust="spacingAndGlyphs" stroke="#2a2d36" stroke-width="0.13">52.14</text>
<g fill="#1e222d" transform="translate(4.4,769.45) scale(0.2417)"><path d="M14 22H7V11H0V4h14z"/><circle cx="20" cy="8" r="4"/><path d="M28 22h-8l7.5-18h8z"/></g>
<text x="15.6" y="775" font-size="5.7" fill="#1e222d" textLength="31.3" lengthAdjust="spacingAndGlyphs" stroke="#1e222d" stroke-width="0.12">TradingView</text>
</svg></body></html>
